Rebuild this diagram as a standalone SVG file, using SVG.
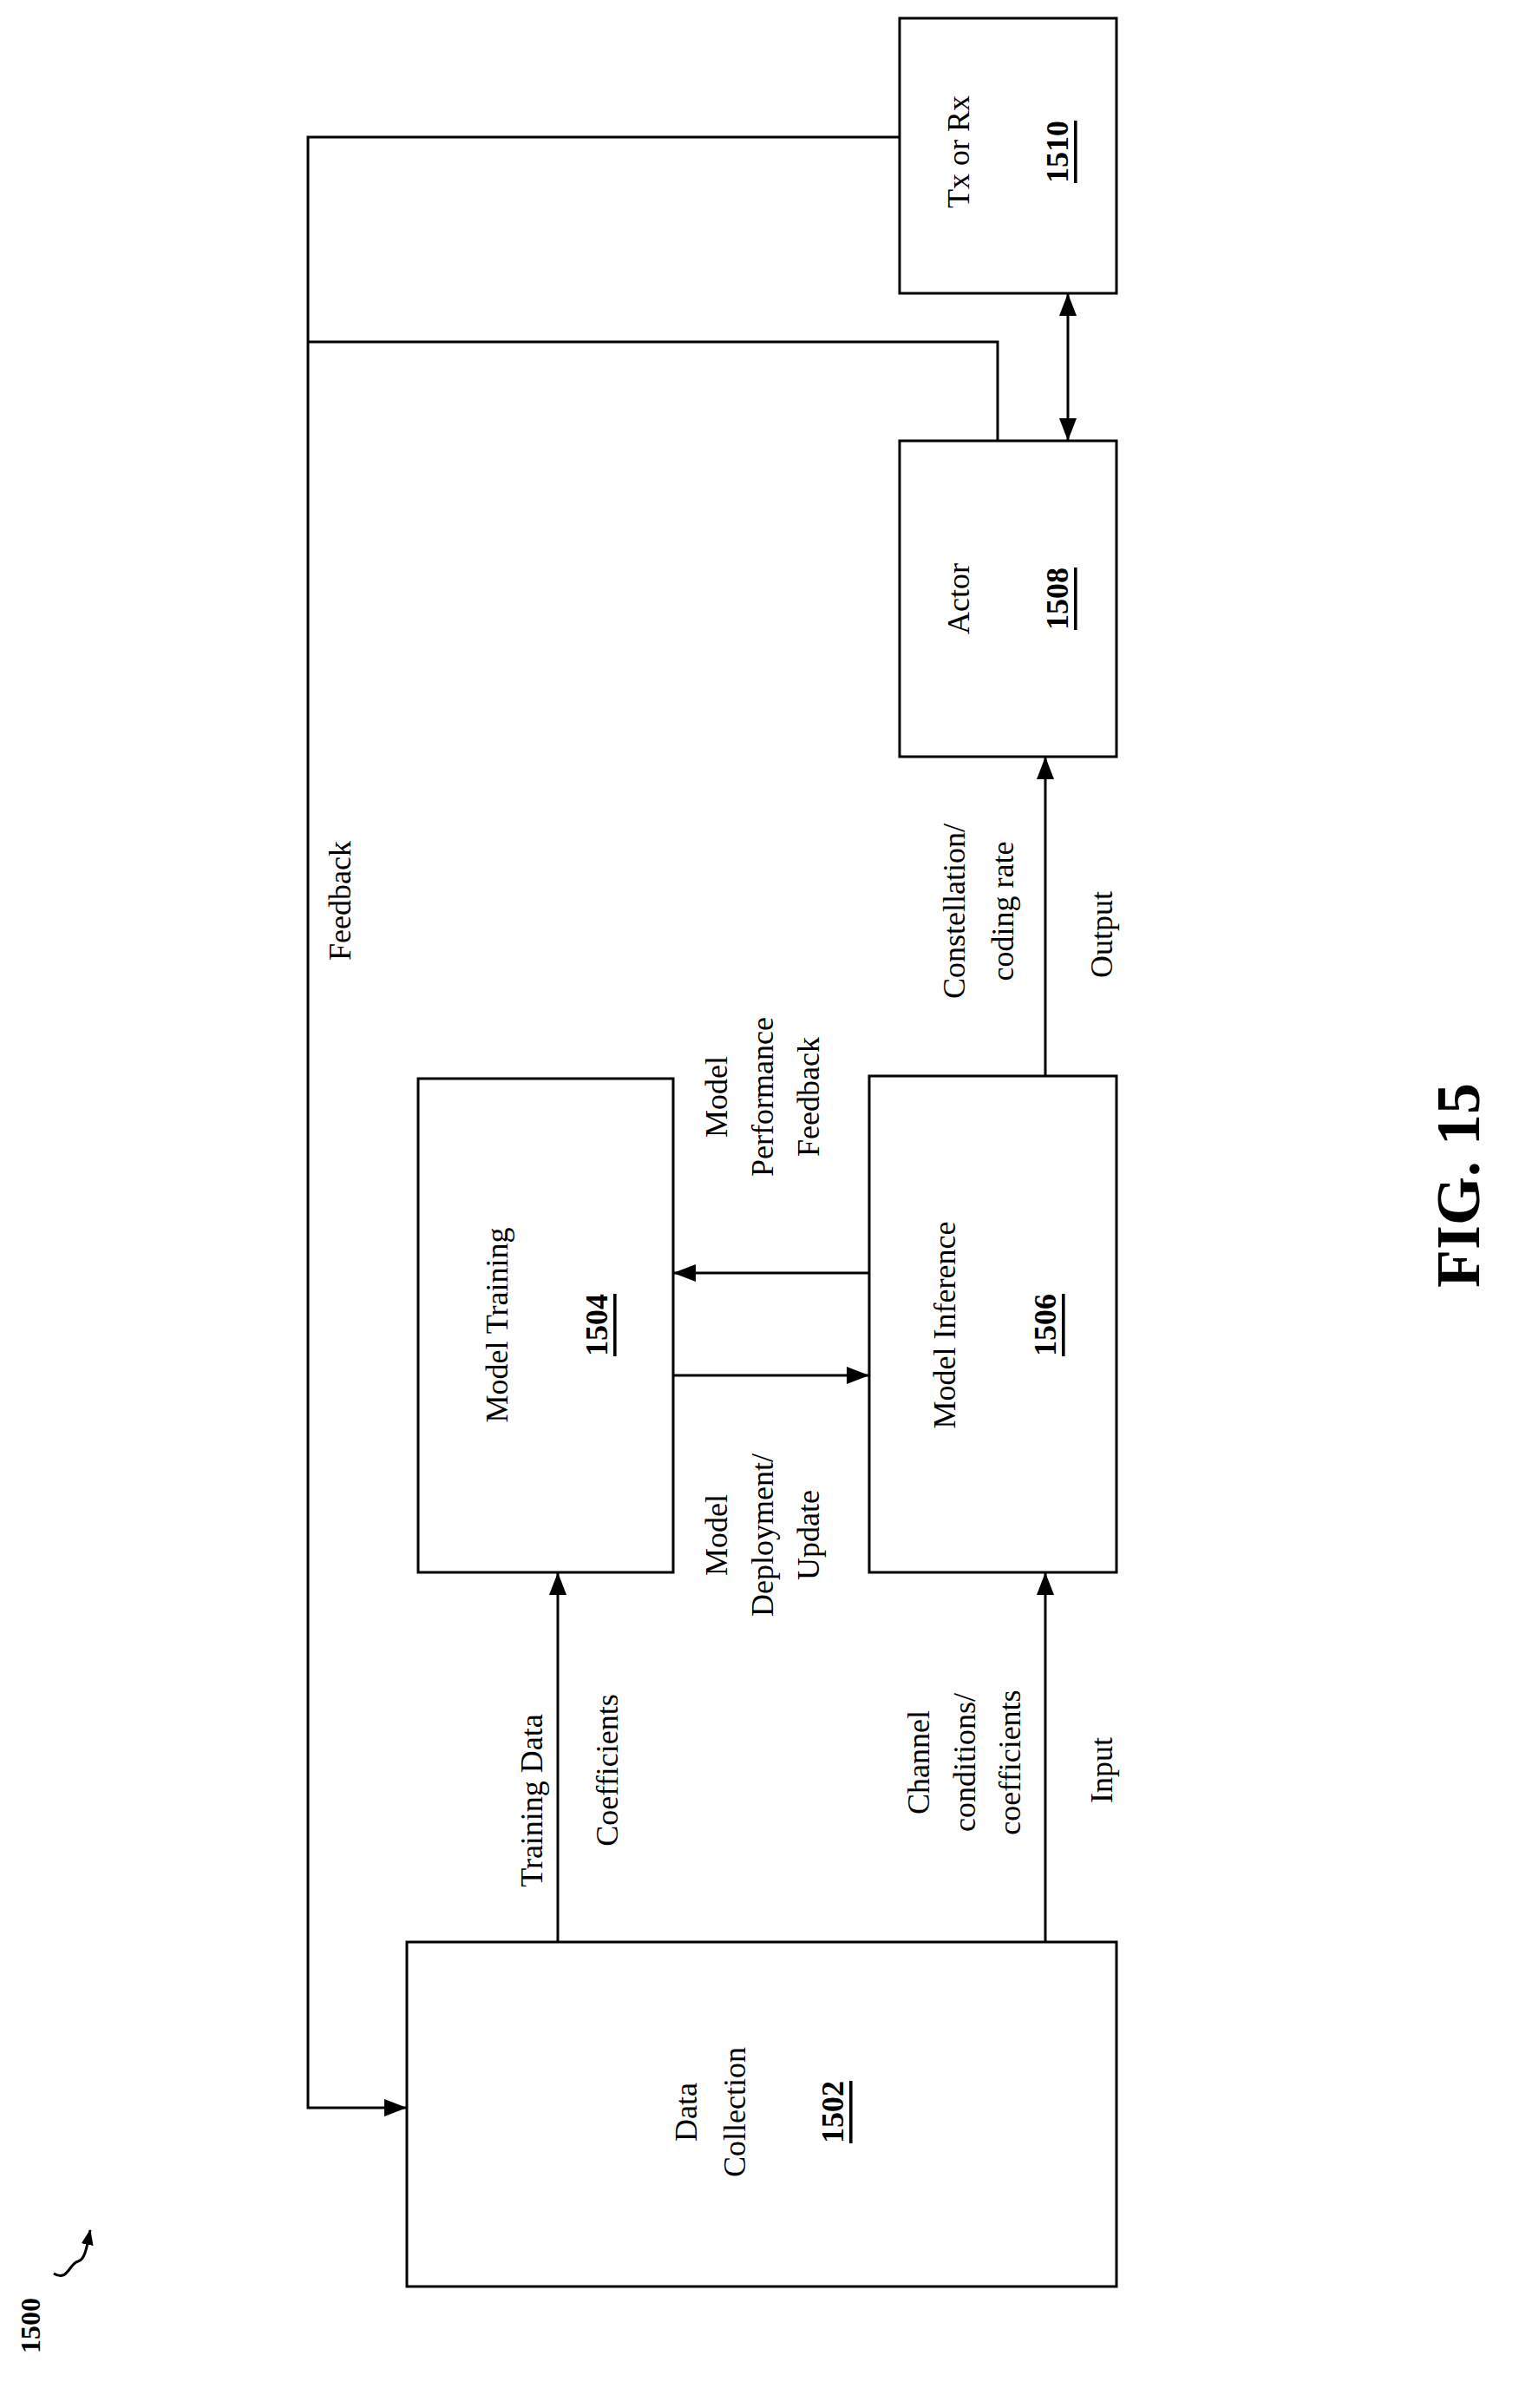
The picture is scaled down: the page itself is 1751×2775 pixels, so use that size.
<svg xmlns="http://www.w3.org/2000/svg" width="1751" height="2775" viewBox="0 0 1751 2775">
<style>
rect{fill:#fff;stroke:#000;stroke-width:3}
.c path,.c line{fill:none;stroke:#000;stroke-width:3}
text{font-family:"Liberation Serif",serif;font-size:36px;text-anchor:middle;dominant-baseline:central}
.n{font-weight:bold;text-decoration:underline}
</style>
<defs>
<marker id="a" markerWidth="26" markerHeight="20" refX="25" refY="10" orient="auto-start-reverse" markerUnits="userSpaceOnUse" viewBox="0 0 26 20"><path d="M0,0L26,10L0,20z" fill="#000"/></marker>
<marker id="s" markerWidth="18" markerHeight="14" refX="17" refY="7" orient="auto" markerUnits="userSpaceOnUse" viewBox="0 0 18 14"><path d="M0,0L18,7L0,14z" fill="#000"/></marker>
</defs>
<rect x="0" y="0" width="1751" height="2775" style="stroke:none"/>
<g class="c">
<line x1="643" y1="2238" x2="643" y2="1813" marker-end="url(#a)"/>
<line x1="1205" y1="2238" x2="1205" y2="1813" marker-end="url(#a)"/>
<line x1="776" y1="1585" x2="1001" y2="1585" marker-end="url(#a)"/>
<line x1="1002" y1="1467" x2="777" y2="1467" marker-end="url(#a)"/>
<line x1="1205" y1="1240" x2="1205" y2="873" marker-end="url(#a)"/>
<line x1="1231" y1="507" x2="1231" y2="339" marker-start="url(#a)" marker-end="url(#a)"/>
<path d="M1037,158H355V2429H468" marker-end="url(#a)"/>
<path d="M1150,508V394H355"/>
</g>
<g id="n1502"><rect x="469" y="2238" width="818" height="397"/>
<text transform="translate(791,2434) rotate(-90)">Data</text>
<text transform="translate(847,2434) rotate(-90)">Collection</text>
<text class="n" transform="translate(960,2434) rotate(-90)">1502</text></g>
<g id="n1504"><rect x="482" y="1243" width="294" height="569"/>
<text transform="translate(573,1527) rotate(-90)">Model Training</text>
<text class="n" transform="translate(688,1527) rotate(-90)">1504</text></g>
<g id="n1506"><rect x="1002" y="1240" width="285" height="572"/>
<text transform="translate(1089,1527) rotate(-90)">Model Inference</text>
<text class="n" transform="translate(1205,1527) rotate(-90)">1506</text></g>
<g id="n1508"><rect x="1037" y="508" width="250" height="364"/>
<text transform="translate(1105,690) rotate(-90)">Actor</text>
<text class="n" transform="translate(1219,690) rotate(-90)">1508</text></g>
<g id="n1510"><rect x="1037" y="21" width="250" height="317"/>
<text transform="translate(1105,175) rotate(-90)">Tx or Rx</text>
<text class="n" transform="translate(1219,175) rotate(-90)">1510</text></g>
<g id="labels">
<text transform="translate(613,2075) rotate(-90)">Training Data</text>
<text transform="translate(700,2040) rotate(-90)">Coefficients</text>
<text transform="translate(1059,2031) rotate(-90)">Channel</text>
<text transform="translate(1112,2031) rotate(-90)">conditions/</text>
<text transform="translate(1164,2031) rotate(-90)">coefficients</text>
<text transform="translate(1270,2040) rotate(-90)">Input</text>
<text transform="translate(826,1769) rotate(-90)">Model</text>
<text transform="translate(879,1769) rotate(-90)">Deployment/</text>
<text transform="translate(932,1769) rotate(-90)">Update</text>
<text transform="translate(826,1264) rotate(-90)">Model</text>
<text transform="translate(879,1264) rotate(-90)">Performance</text>
<text transform="translate(932,1264) rotate(-90)">Feedback</text>
<text transform="translate(1100,1050) rotate(-90)">Constellation/</text>
<text transform="translate(1156,1050) rotate(-90)">coding rate</text>
<text transform="translate(1270,1077) rotate(-90)">Output</text>
<text transform="translate(392,1038) rotate(-90)">Feedback</text>
<text transform="translate(1681,1366) rotate(-90)" style="font-size:72px;font-weight:bold">FIG. 15</text>
<text transform="translate(35,2680) rotate(-90)" style="font-weight:bold;font-size:32px">1500</text>
<path d="M62,2620 C78,2630 80,2608 90,2606 C98,2604 100,2590 104,2570" fill="none" stroke="#000" stroke-width="3" marker-end="url(#s)"/>
</g>
</svg>
